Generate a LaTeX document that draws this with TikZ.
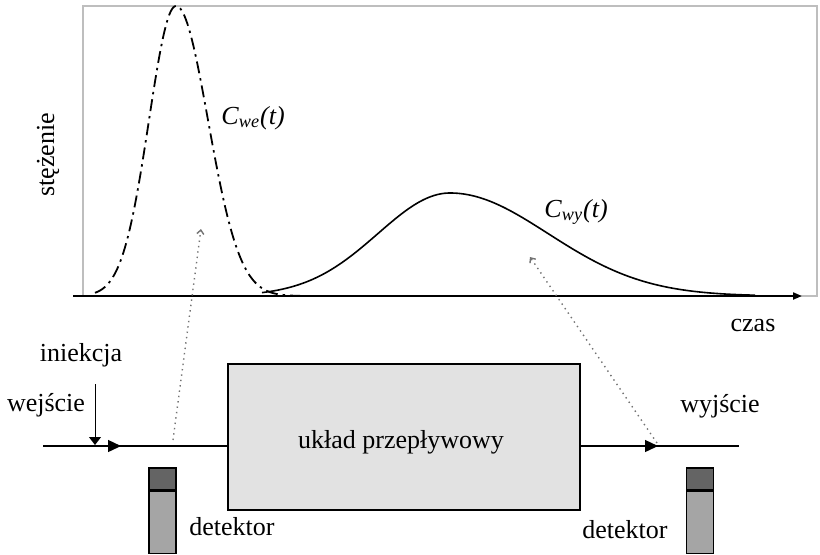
\documentclass[tikz,border=0pt]{standalone}
\usepackage{fontspec}
\setmainfont{Liberation Serif}
\usetikzlibrary{arrows.meta,positioning,calc}
\definecolor{FrameGray}{RGB}{190,190,190}
\definecolor{BoxGray}{RGB}{226,226,226}
\definecolor{DetDark}{RGB}{100,100,100}
\definecolor{DetLight}{RGB}{165,165,165}

\begin{document}
\begin{tikzpicture}[
  x=0.5pt,y=-0.5pt,
  lbl/.style={font=\fontsize{13}{15}\selectfont,inner sep=0pt},
  pipe/.style={line width=0.7pt},
  pipearr/.style={-{Triangle[length=6.5pt,width=6pt]},line width=0.7pt},
  probe/.style={-{Straight Barb[length=2pt,width=3.5pt]},black!55,dotted,line width=0.7pt},
  dettop/.style={draw,line width=0.8pt,fill=DetDark,minimum width=13.5pt,minimum height=11pt,inner sep=0pt},
  detbot/.style={draw,line width=0.8pt,fill=DetLight,minimum width=13.5pt,minimum height=31pt,inner sep=0pt},
  flowbox/.style={draw,line width=0.9pt,fill=BoxGray,minimum width=176pt,minimum height=73pt,inner sep=0pt}
]
  \useasboundingbox (0,0) rectangle (820,554);

  % plot
  \draw[FrameGray,line width=0.8pt] (83,6) rectangle (817,296);
  \draw[line width=0.9pt,dash pattern=on 6pt off 2.5pt on 1.2pt off 2.5pt]
    plot[domain=95:300,samples=150,smooth]
    (\x,{296-290*exp(-0.5*((\x-176)/(\x<176 ? 27 : 32))^2)});
  \draw[line width=0.8pt]
    plot[domain=262:755,samples=150,smooth]
    (\x,{296-103*exp(-0.5*((\x-450)/(\x<450 ? 72 : 98))^2)});
  \draw[-{Triangle[length=4.5pt,width=3.5pt]},line width=1pt] (73,296) -- (802,296);

  \node[lbl,rotate=90] (conc) at (48,155) {stężenie};
  \node[lbl] (time) at (753,325) {czas};
  \node[lbl] (cwe) at (253,118) {\textit{C}\textsubscript{\textit{we}}\textit{(t)}};
  \node[lbl] (cwy) at (576,212) {\textit{C}\textsubscript{\textit{wy}}\textit{(t)}};

  % flow line
  \node[flowbox] (flow) at (404,437) {};
  \node[lbl] (flowlbl) at (401,442) {układ przepływowy};

  \coordinate (inlet) at (43,446);
  \coordinate (inarr) at (121,446);
  \coordinate (outlet) at (739,446);
  \coordinate (outarr) at (658,446);
  \draw[pipe] (inlet) -- (inlet -| flow.west);
  \draw[pipearr] (inlet) -- (inarr);
  \draw[pipe] (outlet -| flow.east) -- (outlet);
  \draw[pipearr] (outlet -| flow.east) -- (outarr);

  \coordinate (injtop) at (95,384);
  \draw[-{Triangle[length=4pt,width=6pt]},line width=0.5pt] (injtop) -- (95,445);

  \node[lbl] (inj) at (81,355) {iniekcja};
  \node[lbl] (inlbl) at (46,405) {wejście};
  \node[lbl] (outlbl) at (720,406) {wyjście};

  % detectors
  \node[dettop] (detLtop) at (162.5,479) {};
  \node[detbot,below=0pt of detLtop] (detLbot) {};
  \node[dettop] (detRtop) at (700,479) {};
  \node[detbot,below=0pt of detRtop] (detRbot) {};
  \node[lbl] (detLlbl) at (232,527) {detektor};
  \node[lbl] (detRlbl) at (625,530) {detektor};

  \coordinate (probeL) at (173,440);
  \coordinate (probeR) at (657,443);
  \draw[probe] (probeL) -- (201,229);
  \draw[probe] (probeR) -- (530,257);
\end{tikzpicture}
\end{document}
